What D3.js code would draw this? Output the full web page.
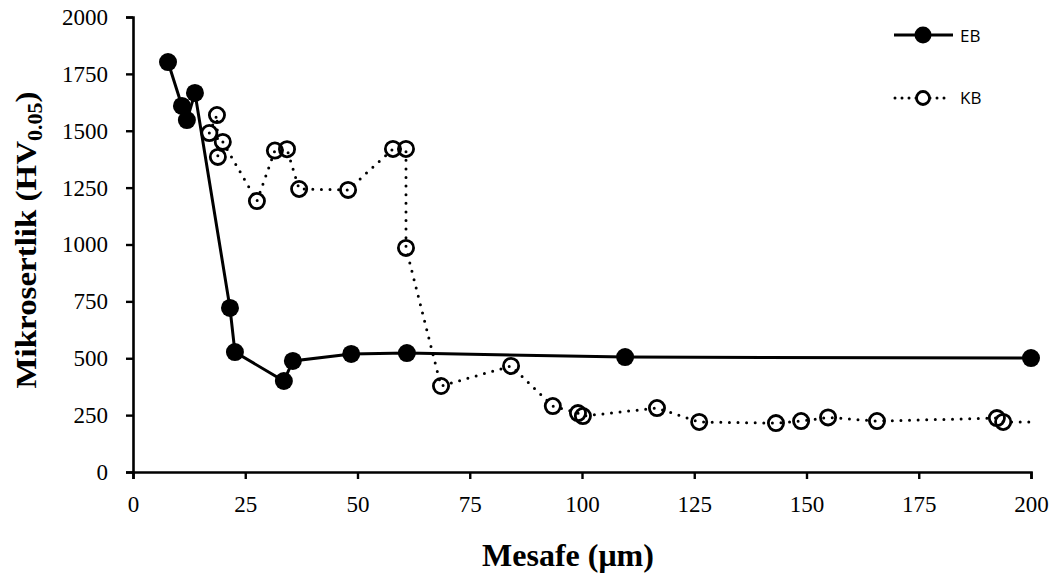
<!DOCTYPE html>
<html><head><meta charset="utf-8">
<script src="https://cdn.jsdelivr.net/npm/d3@7"></script>
<style>body{margin:0;background:#fff}svg{display:block}</style>
</head><body><svg id="c" width="1054" height="578"></svg>
<script>
const xTicks = [0,25,50,75,100,125,150,175,200];
const yTicks = [0,250,500,750,1000,1250,1500,1750,2000];
const ebX = [7.8,10.9,12.0,13.8,21.6,22.7,33.6,35.6,48.6,61.0,109.6,200];
const ebY = [1802,1609,1547,1666,721,527,400,488,519,523,505,501];
const kbX = [17.0,18.7,18.9,20.0,27.6,31.6,34.3,37.0,47.9,57.9,60.8,60.8,68.6,84.2,93.5,99.1,100.2,116.7,126.1,143.2,148.8,154.8,165.7,192.4,193.8,200];
const kbY = [1490,1569,1385,1451,1191,1413,1419,1244,1240,1420,1420,985,378,466,290,259,246,281,220,215,224,240,224,237,220,220];
const kbMarker = [1,1,1,1,1,1,1,1,1,1,1,1,1,1,1,1,1,1,1,1,1,1,1,1,1,0];
const seriesNames = ["EB","KB"];

const svg = d3.select("#c");
const x = d3.scaleLinear().domain([0,200]).range([133,1031]);
const y = d3.scaleLinear().domain([0,2000]).range([472,17]);
const serif = "'Liberation Serif','Times New Roman',serif";

const gx = svg.append("g").attr("transform","translate(0,472)")
  .call(d3.axisBottom(x).tickValues(xTicks).tickSize(7).tickPadding(17).tickFormat(d3.format("d")));
const gy = svg.append("g").attr("transform","translate(133,0)")
  .call(d3.axisLeft(y).tickValues(yTicks).tickSize(7).tickPadding(18).tickFormat(d3.format("d")));
[gx,gy].forEach(g=>{
  g.select(".domain").attr("stroke","#000").attr("stroke-width",2.6);
  g.selectAll(".tick line").attr("stroke","#000").attr("stroke-width",2.4);
  g.selectAll(".tick text").attr("font-family",serif).attr("font-size",23).attr("fill","#000");
});

const kb = kbX.map((v,i)=>({x:v,y:kbY[i],m:kbMarker[i]}));
const eb = ebX.map((v,i)=>({x:v,y:ebY[i]}));
const line = d3.line().x(d=>x(d.x)).y(d=>y(d.y));

svg.append("path").datum(kb).attr("d",line).attr("fill","none").attr("stroke","#000")
  .attr("stroke-width",3).attr("stroke-dasharray","0,8.6").attr("stroke-linecap","round");
svg.append("g").selectAll("circle").data(kb.filter(d=>d.m)).join("circle")
  .attr("cx",d=>x(d.x)).attr("cy",d=>y(d.y)).attr("r",7.6).attr("fill","none")
  .attr("stroke","#000").attr("stroke-width",2.8);

svg.append("path").datum(eb).attr("d",line).attr("fill","none").attr("stroke","#000").attr("stroke-width",3);
svg.append("g").selectAll("circle").data(eb).join("circle")
  .attr("cx",d=>x(d.x)).attr("cy",d=>y(d.y)).attr("r",9).attr("fill","#000");

// legend
const lg = svg.append("g");
lg.append("line").attr("x1",894).attr("x2",953).attr("y1",35).attr("y2",35).attr("stroke","#000").attr("stroke-width",3);
lg.append("circle").attr("cx",923).attr("cy",35).attr("r",8.5).attr("fill","#000");
lg.append("text").attr("x",960).attr("y",42).text(seriesNames[0]).attr("font-family","'Open Sans',sans-serif").attr("font-size",17);
lg.append("line").attr("x1",895).attr("x2",950).attr("y1",98).attr("y2",98).attr("stroke","#000").attr("stroke-width",3)
  .attr("stroke-dasharray","0,7").attr("stroke-linecap","round");
lg.append("circle").attr("cx",923).attr("cy",98).attr("r",6.5).attr("fill","#fff").attr("stroke","#000").attr("stroke-width",2.8);
lg.append("text").attr("x",960).attr("y",104).text(seriesNames[1]).attr("font-family","'Open Sans',sans-serif").attr("font-size",17);

// axis titles
const yt = svg.append("text").attr("transform","translate(36,240) scale(1,1.1) rotate(-90)").attr("text-anchor","middle")
  .attr("font-family",serif).attr("font-weight","bold").attr("font-size",30);
yt.append("tspan").text("Mikrosertlik (HV");
yt.append("tspan").text("0.05").attr("font-size",20).attr("dy",6);
yt.append("tspan").text(")").attr("dy",-6);
svg.append("text").attr("x",568).attr("y",566).attr("text-anchor","middle").attr("font-family",serif)
  .attr("font-weight","bold").attr("font-size",32).text("Mesafe (μm)");
</script></body></html>
